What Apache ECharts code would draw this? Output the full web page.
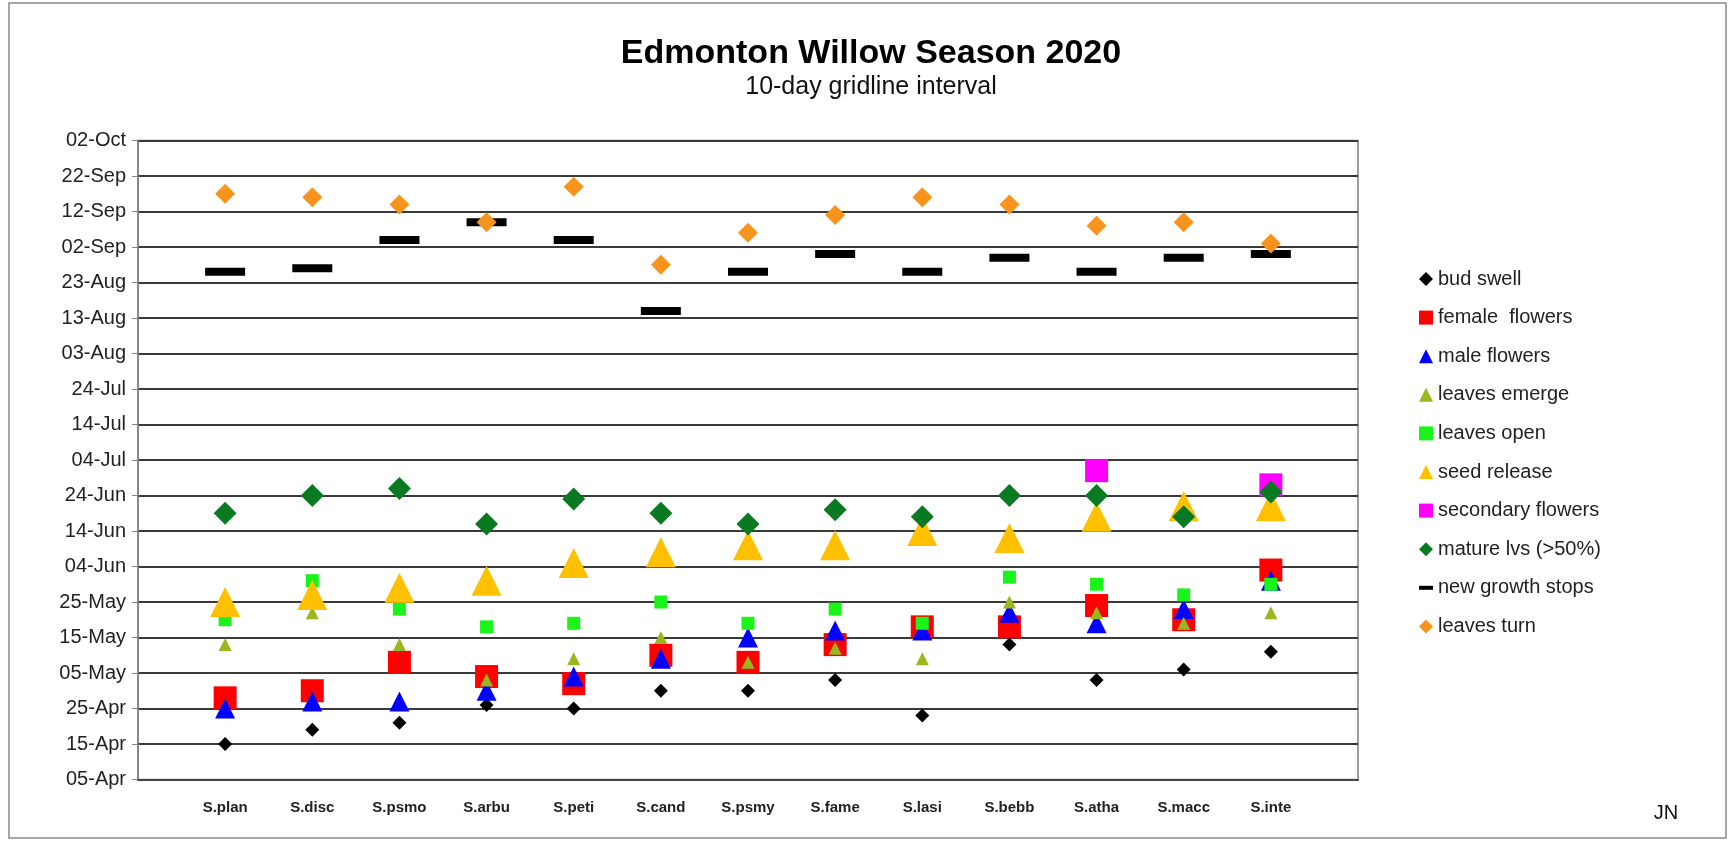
<!DOCTYPE html>
<html><head><meta charset="utf-8">
<script src="https://cdn.jsdelivr.net/npm/echarts@6/dist/echarts.min.js"></script>
<style>html,body{margin:0;padding:0;background:#fff}#c{width:1730px;height:842px}</style>
</head><body><div id="c"></div>
<script>
// Categories (willow species)
const categories = ['S.plan','S.disc','S.psmo','S.arbu','S.peti','S.cand','S.psmy','S.fame','S.lasi','S.bebb','S.atha','S.macc','S.inte'];
// Y tick labels (10-day interval from 05-Apr)
const yTickLabels = ['05-Apr','15-Apr','25-Apr','05-May','15-May','25-May','04-Jun','14-Jun','24-Jun','04-Jul','14-Jul','24-Jul','03-Aug','13-Aug','23-Aug','02-Sep','12-Sep','22-Sep','02-Oct'];
// Phenology dates (MM-DD, 2020), one per category
const budSwell       = ['04-15','04-19','04-21','04-26','04-25','04-30','04-30','05-03','04-23','05-13','05-03','05-06','05-11'];
const femaleFlowers  = ['04-28','04-30','05-08','05-04','05-02','05-10','05-08','05-13','05-18','05-18','05-24','05-20','06-03'];
const maleFlowers    = ['04-25','04-27','04-27','04-30','05-04','05-09','05-15','05-17','05-17','05-22','05-19','05-23','05-31'];
const leavesEmerge   = ['05-13','05-22','05-13','05-03','05-09','05-15','05-08','05-12','05-09','05-25','05-22','05-19','05-22'];
const leavesOpen     = ['05-20','05-31','05-23','05-18','05-19','05-25','05-19','05-23','05-19','06-01','05-30','05-27','05-30'];
const seedRelease    = ['05-25','05-27','05-29','05-31','06-05','06-08','06-10','06-10','06-14','06-12','06-18','06-21','06-21'];
const secondaryFlowers = [null,null,null,null,null,null,null,null,null,null,'07-01',null,'06-27'];
const matureLeaves   = ['06-19','06-24','06-26','06-16','06-23','06-19','06-16','06-20','06-18','06-24','06-24','06-18','06-25'];
const newGrowthStops = ['08-26','08-27','09-04','09-09','09-04','08-15','08-26','08-31','08-26','08-30','08-26','08-30','08-31'];
const leavesTurn     = ['09-17','09-16','09-14','09-09','09-19','08-28','09-06','09-11','09-16','09-14','09-08','09-09','09-03'];

const base = Date.UTC(2020, 3, 5);
function toDay(s) {
  if (!s) return null;
  const p = s.split('-').map(Number);
  return (Date.UTC(2020, p[0] - 1, p[1]) - base) / 86400000;
}
function pts(arr) {
  const out = [];
  arr.forEach((s, i) => { if (s) out.push([i + 1, toDay(s)]); });
  return out;
}
const F = 'Arial, "Liberation Sans", sans-serif';
function sc(name, arr, symbol, size, color) {
  return { type: 'scatter', name, data: pts(arr), symbol, symbolSize: size,
    itemStyle: { color, opacity: 1 }, emphasis: { disabled: true } };
}
const series = [
  sc('bud swell', budSwell, 'diamond', 14, '#000000'),
  sc('female  flowers', femaleFlowers, 'rect', 23, '#ff0000'),
  sc('male flowers', maleFlowers, 'triangle', 20, '#0000ff'),
  sc('leaves emerge', leavesEmerge, 'triangle', 13, '#99b81e'),
  sc('leaves open', leavesOpen, 'rect', 13, '#19f419'),
  sc('seed release', seedRelease, 'triangle', 30, '#ffc000'),
  sc('secondary flowers', secondaryFlowers, 'rect', 23, '#ff00ff'),
  sc('mature lvs (>50%)', matureLeaves, 'diamond', 23, '#0a7a22'),
  sc('new growth stops', newGrowthStops, 'rect', [40, 8], '#000000'),
  sc('leaves turn', leavesTurn, 'diamond', 20, '#f7941d')
];
const legendData = [
  { name: 'bud swell', icon: 'diamond' },
  { name: 'female  flowers', icon: 'rect' },
  { name: 'male flowers', icon: 'triangle' },
  { name: 'leaves emerge', icon: 'triangle' },
  { name: 'leaves open', icon: 'rect' },
  { name: 'seed release', icon: 'triangle' },
  { name: 'secondary flowers', icon: 'rect' },
  { name: 'mature lvs (>50%)', icon: 'diamond' },
  { name: 'new growth stops', icon: 'path://M0,0H14V4H0Z' },
  { name: 'leaves turn', icon: 'diamond' }
];

const chart = echarts.init(document.getElementById('c'), null, { renderer: 'canvas' });
chart.setOption({
  animation: false,
  backgroundColor: '#ffffff',
  grid: { left: 138, right: 372, top: 140.5, bottom: 62.5, show: true,
    borderColor: '#808080', borderWidth: 1.5, backgroundColor: 'transparent' },
  xAxis: {
    type: 'value', min: 0, max: 14, interval: 1,
    axisLine: { show: true, lineStyle: { color: '#444', width: 2 } },
    axisTick: { show: false },
    splitLine: { show: false },
    axisLabel: { margin: 21, fontSize: 15, fontWeight: 'bold', color: '#222', fontFamily: F,
      formatter: v => (v >= 1 && v <= 13) ? categories[v - 1] : '' }
  },
  yAxis: {
    type: 'value', min: 0, max: 180, interval: 10,
    axisLine: { show: true, lineStyle: { color: '#808080', width: 1.5 } },
    axisTick: { show: true, length: 6, lineStyle: { color: '#808080' } },
    splitLine: { show: true, lineStyle: { color: '#3a3a3a', width: 2 } },
    axisLabel: { margin: 12, fontSize: 20, color: '#222', fontFamily: F,
      formatter: v => yTickLabels[Math.round(v / 10)] }
  },
  legend: {
    orient: 'vertical', left: 1414, top: 264, itemWidth: 14, itemHeight: 14, itemGap: 18.6,
    data: legendData, selectedMode: false,
    textStyle: { fontSize: 20, lineHeight: 20, color: '#222', fontFamily: F }
  },
  graphic: [
    { type: 'rect', silent: true, shape: { x: 9, y: 3, width: 1717, height: 835 },
      style: { fill: 'none', stroke: '#8a8a8a', lineWidth: 1.5 } },
    { type: 'text', silent: true, x: 871, y: 54,
      style: { text: 'Edmonton Willow Season 2020', font: 'bold 34px ' + F, fill: '#000',
        textAlign: 'center', textVerticalAlign: 'middle' } },
    { type: 'text', silent: true, x: 871, y: 87,
      style: { text: '10-day gridline interval', font: '25px ' + F, fill: '#111',
        textAlign: 'center', textVerticalAlign: 'middle' } },
    { type: 'text', silent: true, x: 1666, y: 813,
      style: { text: 'JN', font: '20px ' + F, fill: '#111',
        textAlign: 'center', textVerticalAlign: 'middle' } }
  ],
  series
});
</script></body></html>
